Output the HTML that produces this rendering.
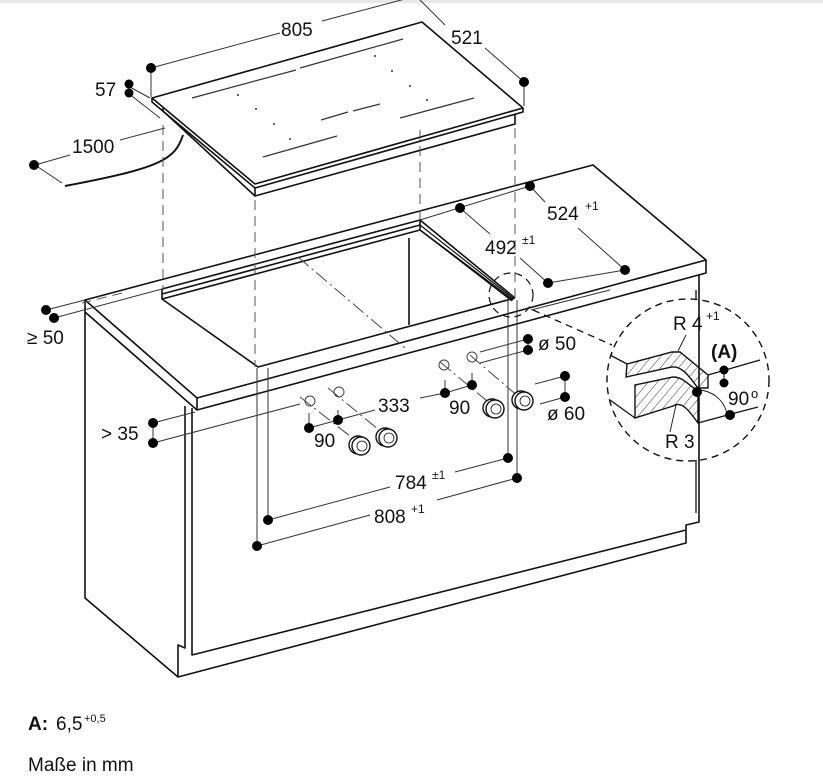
<!DOCTYPE html>
<html><head><meta charset="utf-8"><style>
html,body{margin:0;padding:0;background:#fff;}
svg{display:block;}
text{font-family:"Liberation Sans",sans-serif;fill:#111;}
</style></head><body>
<svg width="823" height="777" viewBox="0 0 823 777" xmlns="http://www.w3.org/2000/svg">
<defs>
<pattern id="h" width="7" height="7" patternUnits="userSpaceOnUse" patternTransform="rotate(40)">
<line x1="0" y1="0" x2="0" y2="7" stroke="#222" stroke-width="0.9"/></pattern>
</defs>
<rect width="823" height="777" fill="#fff"/>
<rect width="823" height="3" fill="#e8e8e8"/>
<g fill="none" stroke="#111" stroke-width="1.6" stroke-linejoin="round">
<polygon points="152,98 422,22 523,108 255,184" fill="#fff"/>
<polyline points="152,98 152,102 255,188 523,112 523,108"/>
<polyline points="163,111 255,196 515,124 515,114"/>
<line x1="255" y1="188" x2="255" y2="196"/>
<line x1="163" y1="108" x2="163" y2="111"/>
<path d="M183,135 C175,160 160,168 65,186" stroke-width="2"/>
<polygon points="85,300 593,165 706,260 197,398" fill="#fff"/>
<polyline points="85,300 85,312 197,410 706,273 706,260"/>
<line x1="197" y1="398" x2="197" y2="410"/>
<polyline points="85,312 85,598 178,677 686,543 686,525 699,522 699,275"/>
<polyline points="185,406 185,648 178,645 178,677"/>
<polyline points="192,408 192,655 686,530"/>
<polyline points="162,289 420,220 515,298"/>
<polyline points="162,294 420,225"/>
<polyline points="162,299 420,230 513,300"/>
<polyline points="162,289 162,299 258,367 515,298"/>
<polyline points="420,220 420,230"/>
<line x1="409" y1="238" x2="409" y2="325"/>
<polyline points="420,225 514,299" stroke-width="1.2"/>
<polyline points="420,230 512,301" stroke-width="1.2"/>
</g>
<g stroke="#333" stroke-width="1.2">
<line x1="192" y1="98" x2="296" y2="70"/><line x1="300" y1="68" x2="403" y2="39"/>
<line x1="321" y1="120" x2="348" y2="112"/><line x1="353" y1="111" x2="380" y2="104"/>
<line x1="400" y1="118" x2="474" y2="98"/>
<line x1="263" y1="157" x2="337" y2="136"/>
</g>
<g fill="#333">
<circle cx="238" cy="95" r="1"/><circle cx="256" cy="109" r="1"/><circle cx="274" cy="124" r="1"/><circle cx="290" cy="139" r="1"/>
<circle cx="375" cy="56" r="1"/><circle cx="392" cy="71" r="1"/><circle cx="410" cy="86" r="1"/><circle cx="427" cy="100" r="1"/>
</g>
<g stroke="#555" stroke-width="1" stroke-dasharray="10,6" fill="none">
<line x1="163" y1="125" x2="163" y2="290"/>
<line x1="255" y1="200" x2="255" y2="367"/>
<line x1="515" y1="128" x2="515" y2="300"/>
<line x1="420" y1="130" x2="420" y2="220"/>
<line x1="122" y1="293" x2="82" y2="303"/>
</g>
<g stroke="#444" stroke-width="1" fill="none" stroke-dasharray="14,4,2,4">
<line x1="298" y1="257" x2="405" y2="348"/>
<line x1="300" y1="397" x2="355" y2="440"/><line x1="328" y1="388" x2="385" y2="435"/>
<line x1="440" y1="362" x2="492" y2="405"/><line x1="470" y1="355" x2="520" y2="398"/>
</g>
<g stroke="#333" stroke-width="1" fill="none">
<line x1="151" y1="68" x2="280" y2="33"/><line x1="322" y1="21" x2="420" y2="-5"/>
<line x1="151" y1="68" x2="151" y2="97"/>
<line x1="420" y1="0" x2="445" y2="25"/><line x1="485" y1="48" x2="524" y2="82"/>
<line x1="524" y1="82" x2="524" y2="106"/>
<line x1="128" y1="86" x2="150" y2="98"/><line x1="128" y1="93" x2="160" y2="118"/>
<line x1="35" y1="165" x2="70" y2="155"/><line x1="120" y1="140" x2="165" y2="128"/>
<line x1="35" y1="165" x2="62" y2="183"/>
<line x1="46" y1="310" x2="85" y2="300"/><line x1="54" y1="318" x2="162" y2="289"/>
<line x1="153" y1="423" x2="195" y2="412"/><line x1="153" y1="443" x2="300" y2="404"/>
<line x1="153" y1="423" x2="153" y2="443"/>
<line x1="530" y1="186" x2="545" y2="202"/><line x1="578" y1="228" x2="625" y2="270"/>
<line x1="460" y1="208" x2="490" y2="234"/><line x1="520" y1="258" x2="548" y2="283"/>
<line x1="548" y1="283" x2="625" y2="270"/>
<line x1="420" y1="220" x2="530" y2="186"/>
<line x1="528" y1="339" x2="480" y2="352"/><line x1="528" y1="350" x2="480" y2="363"/>
<line x1="528" y1="339" x2="528" y2="350"/>
<line x1="565" y1="376" x2="535" y2="384"/><line x1="565" y1="397" x2="540" y2="404"/>
<line x1="565" y1="376" x2="565" y2="397"/>
<line x1="445" y1="393" x2="472" y2="385"/><line x1="445" y1="380" x2="445" y2="393"/><line x1="472" y1="373" x2="472" y2="385"/>
<line x1="309" y1="428" x2="338" y2="420"/><line x1="309" y1="413" x2="309" y2="428"/><line x1="338" y1="410" x2="338" y2="420"/>
<line x1="338" y1="420" x2="375" y2="410"/><line x1="420" y1="398" x2="445" y2="393"/>
<line x1="508" y1="300" x2="508" y2="458"/><line x1="517" y1="300" x2="517" y2="478"/>
<line x1="268" y1="368" x2="268" y2="520"/><line x1="257" y1="368" x2="257" y2="546"/>
<line x1="268" y1="520" x2="390" y2="487"/><line x1="455" y1="472" x2="508" y2="458"/>
<line x1="257" y1="546" x2="370" y2="515"/><line x1="437" y1="500" x2="517" y2="478"/>
<line x1="531" y1="310" x2="610" y2="290"/>
</g>
<g fill="#000">
<circle cx="151" cy="68" r="5"/><circle cx="524" cy="82" r="5"/>
<circle cx="129" cy="84" r="4.5"/><circle cx="129" cy="93" r="4.5"/>
<circle cx="34" cy="165" r="5"/>
<circle cx="46" cy="310" r="5"/><circle cx="54" cy="318" r="5"/>
<circle cx="153" cy="423" r="5"/><circle cx="153" cy="443" r="5"/>
<circle cx="530" cy="186" r="5"/><circle cx="460" cy="208" r="5"/>
<circle cx="625" cy="270" r="5"/><circle cx="548" cy="283" r="5"/>
<circle cx="528" cy="339" r="5"/><circle cx="528" cy="350" r="5"/>
<circle cx="565" cy="376" r="5"/><circle cx="565" cy="397" r="5"/>
<circle cx="445" cy="393" r="5"/><circle cx="472" cy="385" r="5"/>
<circle cx="309" cy="428" r="5"/><circle cx="338" cy="420" r="5"/>
<circle cx="508" cy="458" r="5"/><circle cx="517" cy="478" r="5"/>
<circle cx="268" cy="520" r="5"/><circle cx="257" cy="546" r="5"/>
</g>
<g stroke="#444" stroke-width="1" fill="none">
<circle cx="310" cy="401" r="5"/><circle cx="339" cy="392" r="5"/>
<circle cx="444" cy="365" r="5"/><circle cx="472" cy="357" r="5"/>
</g>
<g stroke="#111" stroke-width="1.4" fill="#fff">
<circle cx="358" cy="445" r="9"/><circle cx="361" cy="446" r="9"/><circle cx="362" cy="446" r="5" stroke-width="0.8"/>
<circle cx="385" cy="437" r="9"/><circle cx="388" cy="438" r="9"/><circle cx="389" cy="438" r="5" stroke-width="0.8"/>
<circle cx="492" cy="408" r="9"/><circle cx="495" cy="409" r="9"/><circle cx="496" cy="409" r="5" stroke-width="0.8"/>
<circle cx="521" cy="400" r="9"/><circle cx="524" cy="401" r="9"/><circle cx="525" cy="401" r="5" stroke-width="0.8"/>
</g>
<g fill="none" stroke="#111">
<circle cx="688" cy="380" r="81" stroke-dasharray="7,5" stroke-width="1.4"/>
<circle cx="511" cy="295" r="22" stroke-dasharray="7,5" stroke-width="1.2"/>
<line x1="533" y1="310" x2="612" y2="345" stroke-dasharray="7,5" stroke-width="1.3"/>
<!-- lower block -->
<path d="M635,385 L673,377 C685,377 690,388 698,390 L698,423 C690,412 682,400 673,406 L635,418 Z" fill="url(#h)" stroke-width="1.4"/>
<!-- top plate -->
<path d="M627,364 L672,352 L680,352 L708,375 L708,388 L698,388 C690,378 683,366 672,367 L626,377 Z" fill="url(#h)" stroke-width="1.4"/>
<line x1="610" y1="355" x2="627" y2="364" stroke-width="1.3"/>
<line x1="610" y1="400" x2="635" y2="418" stroke-width="1.3"/>
<line x1="708" y1="375" x2="760" y2="360" stroke-width="1.3"/>
<polyline points="698,423 735,413 758,407" stroke-width="1.3"/>
<line x1="696" y1="513" x2="696" y2="460" stroke-width="1.3"/>
<line x1="696" y1="300" x2="696" y2="290" stroke-width="1.3"/>
<line x1="724" y1="370" x2="724" y2="383" stroke-width="1"/>
<path d="M697,390 A30,30 0 0 1 727,414" stroke-width="0.9"/>
<line x1="686" y1="335" x2="678" y2="351" stroke-width="0.9"/>
<line x1="676" y1="405" x2="670" y2="432" stroke-width="0.9"/>
</g>
<g fill="#000"><circle cx="697" cy="392" r="5"/><circle cx="724" cy="370" r="4.5"/><circle cx="724" cy="383" r="4.5"/><circle cx="730" cy="415" r="5"/></g>
<g font-size="19">
<text x="281" y="36">805</text>
<text x="451" y="44">521</text>
<text x="95" y="96">57</text>
<text x="72" y="153">1500</text>
<text x="27" y="344">≥ 50</text>
<text x="101" y="440">&gt; 35</text>
<text x="547" y="220">524</text><text x="585" y="210" font-size="12">+1</text>
<text x="485" y="254">492</text><text x="522" y="244" font-size="12">±1</text>
<text x="538" y="350">ø 50</text>
<text x="547" y="420">ø 60</text>
<text x="378" y="412">333</text>
<text x="449" y="414">90</text>
<text x="314" y="447">90</text>
<text x="395" y="489">784</text><text x="432" y="479" font-size="12">±1</text>
<text x="374" y="523">808</text><text x="411" y="513" font-size="12">+1</text>
<text x="673" y="330">R 4</text><text x="706" y="320" font-size="12">+1</text>
<text x="711" y="358" font-weight="bold">(A)</text>
<text x="728" y="405">90</text><text x="751" y="398" font-size="13">o</text>
<text x="665" y="448">R 3</text>
<text x="28" y="730" font-weight="bold">A:</text>
<text x="56" y="730">6,5</text><text x="84" y="722" font-size="11">+0,5</text>
<text x="28" y="771">Maße in mm</text>
</g>
</svg>
</body></html>
